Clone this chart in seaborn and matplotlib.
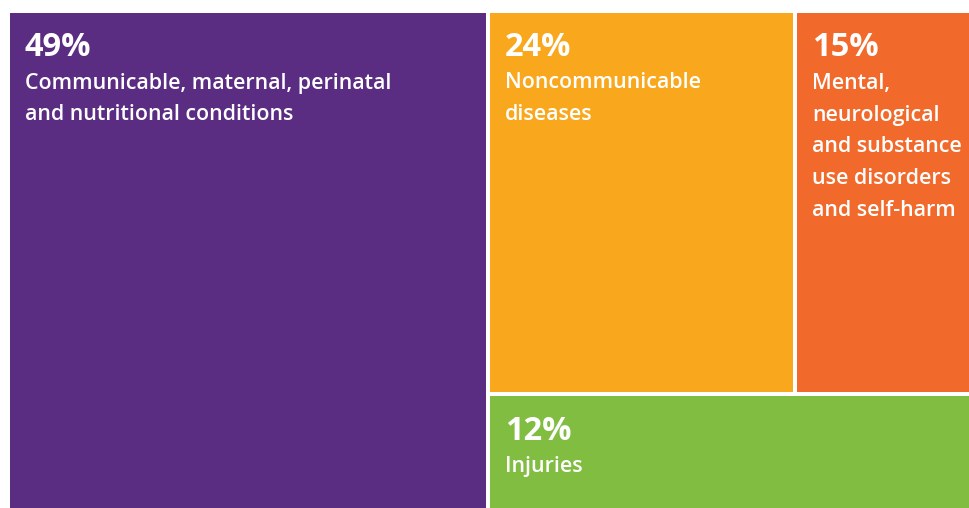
import matplotlib
matplotlib.use("Agg")
import matplotlib.pyplot as plt
import seaborn as sns

# Share of the burden by cause group (percent)
shares = [49, 24, 15, 12]
pct_labels = ["49%", "24%", "15%", "12%"]
cause_labels = [
    ["Communicable, maternal, perinatal", "and nutritional conditions"],
    ["Noncommunicable", "diseases"],
    ["Mental,", "neurological", "and substance", "use disorders", "and self-harm"],
    ["Injuries"],
]
colors = ["#5A2C82", "#F9A81D", "#F26A2B", "#80BD41"]

sns.set_theme(style="white")
plt.rcParams["font.family"] = ["Open Sans", "DejaVu Sans"]
palette = sns.color_palette(colors)

W, H = 969, 508
fig = plt.figure(figsize=(W / 100, H / 100), dpi=100)
ax = fig.add_axes([0, 0, 1, 1])
ax.set_xlim(0, W)
ax.set_ylim(H, 0)
ax.axis("off")

# Treemap frame (runs slightly past the right and bottom edges)
X0, Y0, X1, Y1 = 8, 10.5, 987, 512
GAP = 4

total = sum(shares)
full_w, full_h = X1 - X0, Y1 - Y0

# Layout: first block takes a full-height column, the rest fill the
# remaining column with a top row (blocks 2-3) and a bottom row (block 4).
rects = []
w0 = full_w * shares[0] / total
rects.append((X0, Y0, w0, full_h))
rest = total - shares[0]
rx, rw = X0 + w0, full_w - w0
top_sum = shares[1] + shares[2]
top_h = full_h * top_sum / rest
w1 = rw * shares[1] / top_sum
rects.append((rx, Y0, w1, top_h))
rects.append((rx + w1, Y0, rw - w1, top_h))
rects.append((rx, Y0 + top_h, rw, full_h - top_h))

for (x, y, w, h), c in zip(rects, palette):
    ax.bar(x + GAP / 2, h - GAP, width=w - GAP, bottom=y + GAP / 2,
           align="edge", color=c, linewidth=0)

for (x, y, w, h), pct, lines in zip(rects, pct_labels, cause_labels):
    tx = x + GAP / 2 + 15
    ty = y + GAP / 2
    ax.text(tx, ty + 44, pct, color="white", fontsize=23.5, fontweight="bold",
            va="baseline", ha="left")
    for i, line in enumerate(lines):
        ax.text(tx, ty + 76 + 32 * i, line, color="white", fontsize=15.4,
                fontweight="semibold", va="baseline", ha="left")

fig.savefig("out.png", dpi=100, facecolor="white")
